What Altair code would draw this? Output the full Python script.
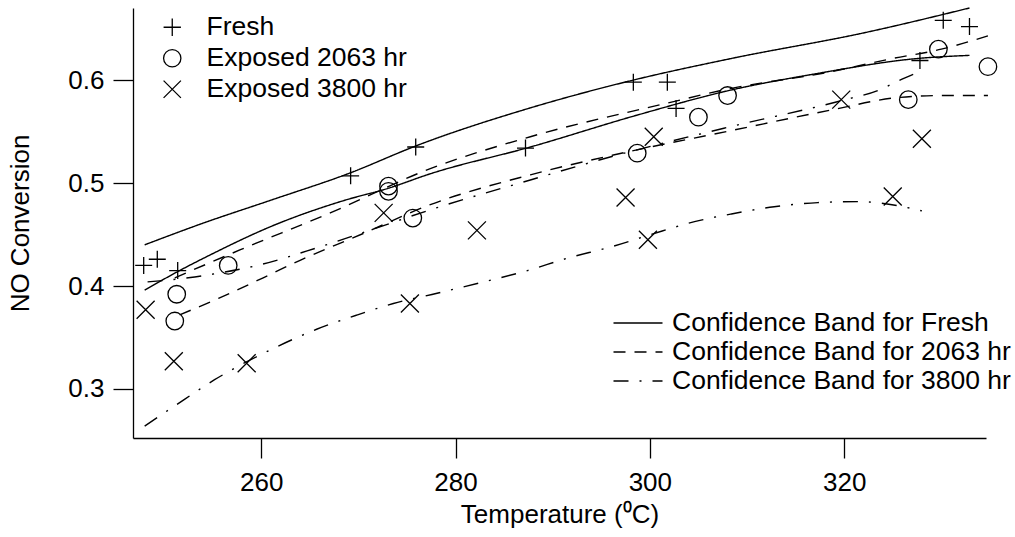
import altair as alt
import pandas as pd

# ---------------- data ----------------
series_names = ["Fresh", "Exposed 2063 hr", "Exposed 3800 hr"]

fresh_T = [247.9, 249.3, 251.4, 269.2, 275.9, 287.2, 298.3, 301.8, 302.7, 327.8, 330.2, 332.9]
fresh_v = [0.420, 0.426, 0.415, 0.507, 0.535, 0.534, 0.598, 0.598, 0.5725, 0.619, 0.658, 0.652]

e2063_T = [251.1, 251.3, 256.6, 273.1, 273.1, 275.6, 298.7, 305.0, 308.0, 326.6, 329.7, 334.8]
e2063_v = [0.366, 0.392, 0.420, 0.497, 0.492, 0.466, 0.529, 0.564, 0.585, 0.581, 0.630, 0.613]

e3800_T = [248.1, 251.0, 258.5, 272.6, 275.3, 282.2, 297.5, 299.8, 300.4, 319.7, 325.0, 328.0]
e3800_v = [0.377, 0.327, 0.325, 0.471, 0.383, 0.454, 0.486, 0.445, 0.545, 0.581, 0.487, 0.543]

band_names = ["Confidence Band for Fresh", "Confidence Band for 2063 hr", "Confidence Band for 3800 hr"]

fresh_up_T = [248.0, 254.0, 261.2, 269.2, 275.9, 287.7, 298.3, 308.4, 322.1, 332.9]
fresh_up_v = [0.440, 0.461, 0.484, 0.510, 0.536, 0.573, 0.600, 0.621, 0.646, 0.670]
fresh_lo_T = [248.0, 251.4, 254.7, 261.3, 268.5, 273.1, 277.4, 287.7, 298.7, 308.2, 317.0, 327.6, 332.9]
fresh_lo_v = [0.396, 0.414, 0.430, 0.459, 0.483, 0.495, 0.509, 0.535, 0.566, 0.590, 0.606, 0.621, 0.624]

e2063_up_T = [251.1, 257.8, 267.1, 277.4, 287.7, 301.5, 308.4, 318.0, 325.0, 330.0, 334.8]
e2063_up_v = [0.408, 0.435, 0.471, 0.514, 0.545, 0.577, 0.592, 0.607, 0.621, 0.630, 0.643]
e2063_lo_T = [251.6, 255.6, 260.2, 264.0, 270.5, 277.4, 287.7, 296.6, 308.4, 318.7, 325.5, 330.0, 334.8]
e2063_lo_v = [0.372, 0.388, 0.408, 0.425, 0.451, 0.479, 0.508, 0.528, 0.551, 0.571, 0.583, 0.585, 0.585]

e3800_up_T = [248.3, 252.5, 255.3, 259.6, 265.7, 270.2, 277.4, 287.7, 296.0, 308.4, 319.7, 323.5, 326.2, 328.0]
e3800_up_v = [0.404, 0.408, 0.412, 0.420, 0.437, 0.451, 0.474, 0.503, 0.5255, 0.555, 0.580, 0.590, 0.602, 0.609]
e3800_lo_T = [248.0, 251.0, 255.2, 261.6, 265.7, 269.9, 273.6, 278.1, 282.9, 287.4, 291.5, 296.0, 300.1,
              304.6, 308.4, 312.8, 317.3, 321.4, 325.5, 328.0]
e3800_lo_v = [0.264, 0.283, 0.309, 0.341, 0.358, 0.372, 0.383, 0.393, 0.404, 0.415, 0.427, 0.438, 0.450,
              0.4625, 0.470, 0.477, 0.481, 0.482, 0.478, 0.473]

x_ticks = [260, 280, 300, 320]
y_ticks = [0.3, 0.4, 0.5, 0.6]

# ---------------- tables ----------------
pts = pd.concat([
    pd.DataFrame({"T": fresh_T, "v": fresh_v, "series": series_names[0]}),
    pd.DataFrame({"T": e2063_T, "v": e2063_v, "series": series_names[1]}),
    pd.DataFrame({"T": e3800_T, "v": e3800_v, "series": series_names[2]}),
], ignore_index=True)

bands = pd.concat([
    pd.DataFrame({"T": fresh_up_T, "v": fresh_up_v, "band": band_names[0], "edge": "fresh_up"}),
    pd.DataFrame({"T": fresh_lo_T, "v": fresh_lo_v, "band": band_names[0], "edge": "fresh_lo"}),
    pd.DataFrame({"T": e2063_up_T, "v": e2063_up_v, "band": band_names[1], "edge": "e2063_up"}),
    pd.DataFrame({"T": e2063_lo_T, "v": e2063_lo_v, "band": band_names[1], "edge": "e2063_lo"}),
    pd.DataFrame({"T": e3800_up_T, "v": e3800_up_v, "band": band_names[2], "edge": "e3800_up"}),
    pd.DataFrame({"T": e3800_lo_T, "v": e3800_lo_v, "band": band_names[2], "edge": "e3800_lo"}),
], ignore_index=True)

FONT = "Liberation Sans"
FS_AX = 26
FS_LG = 26.5

xscale = alt.Scale(domain=[246.8, 334.6], nice=False, zero=False)
yscale = alt.Scale(domain=[0.2524, 0.670], nice=False, zero=False)

xaxis = alt.Axis(values=x_ticks, title="Temperature (⁰C)", format="d", grid=False,
                 tickSize=20, labelPadding=11, titlePadding=6)
yaxis = alt.Axis(values=y_ticks, title="NO Conversion", format=".1f", grid=False,
                 tickSize=20, labelPadding=9, titlePadding=34)

lines = alt.Chart(bands).mark_line(color="black", strokeWidth=1.4, interpolate="monotone").encode(
    x=alt.X("T:Q", scale=xscale, axis=xaxis),
    y=alt.Y("v:Q", scale=yscale, axis=yaxis),
    strokeDash=alt.StrokeDash(
        "band:N",
        scale=alt.Scale(domain=band_names, range=[[1, 0], [12, 9], [15, 11, 2, 11]]),
        legend=alt.Legend(title=None, orient="none", legendX=490, legendY=300,
                          symbolType="M-1.75,0H1.75", symbolSize=784, symbolStrokeWidth=1.4,
                          symbolStrokeColor="black", labelFontSize=FS_LG, labelOffset=19,
                          rowPadding=0, padding=0, labelLimit=600),
    ),
    detail="edge:N",
)

points = alt.Chart(pts).mark_point(filled=False, color="black", strokeWidth=1.3, opacity=1).encode(
    x=alt.X("T:Q", scale=xscale),
    y=alt.Y("v:Q", scale=yscale),
    shape=alt.Shape(
        "series:N",
        scale=alt.Scale(domain=series_names,
                        range=["M-1,0H1M0,-1V1", "circle", "M-1,-1L1,1M1,-1L-1,1"]),
        legend=alt.Legend(title=None, orient="none", legendX=26, legendY=6,
                          symbolSize=300, symbolStrokeWidth=1.3, symbolStrokeColor="black",
                          symbolFillColor="transparent", labelFontSize=FS_LG, labelOffset=21,
                          rowPadding=4, padding=0, labelLimit=600),
    ),
    size=alt.Size("series:N",
                  scale=alt.Scale(domain=series_names, range=[289, 324, 240]),
                  legend=None),
)

chart = alt.layer(lines, points).resolve_legend(shape="independent").properties(
    width=853, height=430,
    autosize=alt.AutoSizeParams(type="none"),
    padding={"left": 133, "top": 8, "right": 29, "bottom": 99},
    background="white",
).configure_view(stroke=None).configure_axis(
    domainColor="black", domainWidth=1.3, tickColor="black", tickWidth=1.3,
    labelColor="black", titleColor="black", labelFont=FONT, titleFont=FONT,
    labelFontSize=FS_AX, titleFontSize=FS_AX, titleFontWeight="normal",
).configure_legend(labelFont=FONT, labelColor="black")

chart.save("out.html", embed_options={"renderer": "svg", "actions": False})
